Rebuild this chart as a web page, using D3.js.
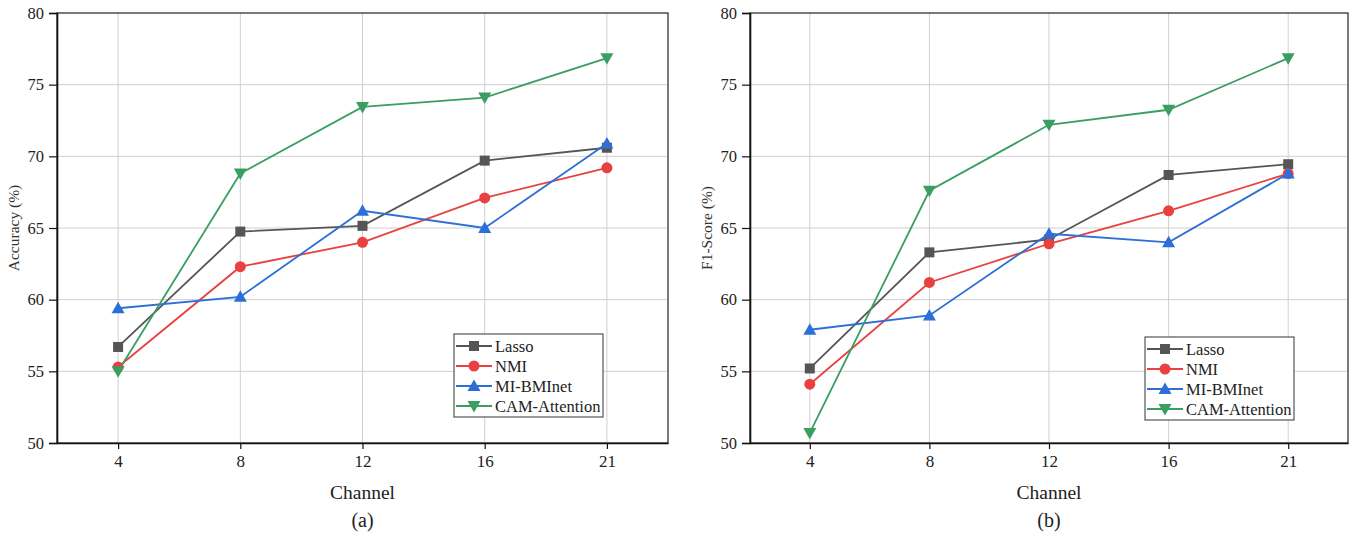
<!DOCTYPE html>
<html><head><meta charset="utf-8">
<script src="https://cdn.jsdelivr.net/npm/d3@7"></script>
<style>body{margin:0;background:#fff;} svg text{font-family:"Liberation Serif","Times New Roman","DejaVu Serif",serif !important;}</style>
</head><body>
<svg id="c" width="1354" height="535"></svg>
<script>
const channels = ["4","8","12","16","21"];
const seriesNames = ["Lasso","NMI","MI-BMInet","CAM-Attention"];
const colors = ["#555555","#e8413f","#2c6fd6","#3a9e63"];
const symbols = ["square","circle","triangle","triangleDown"];
const yTicks = [50,55,60,65,70,75,80];

const accLasso = [56.7, 64.75, 65.15, 69.7, 70.6];
const accNMI   = [55.3, 62.3, 64.0, 67.1, 69.2];
const accMI    = [59.4, 60.2, 66.2, 65.0, 70.9];
const accCAM   = [55.0, 68.8, 73.45, 74.1, 76.85];

const f1Lasso = [55.2, 63.3, 64.2, 68.7, 69.45];
const f1NMI   = [54.1, 61.2, 63.9, 66.2, 68.8];
const f1MI    = [57.9, 58.9, 64.6, 64.0, 68.8];
const f1CAM   = [50.7, 67.6, 72.2, 73.25, 76.85];

const panels = [
  {left:57, right:668, top:13, bottom:443, ylabel:"Accuracy (%)", tag:"(a)", data:[accLasso,accNMI,accMI,accCAM], legend:{x:454,y:334}},
  {left:750, right:1348, top:13, bottom:443, ylabel:"F1-Score (%)", tag:"(b)", data:[f1Lasso,f1NMI,f1MI,f1CAM], legend:{x:1145,y:337}}
];

const svg = d3.select("#c");

function marker(g, type, color, cx, cy){
  const s = 5;
  if(type==="square"){
    g.append("rect").attr("x",cx-s).attr("y",cy-s).attr("width",2*s).attr("height",2*s).attr("fill",color);
  } else if(type==="circle"){
    g.append("circle").attr("cx",cx).attr("cy",cy).attr("r",5.5).attr("fill",color);
  } else if(type==="triangle"){
    g.append("path").attr("d",`M${cx},${cy-6.5}L${cx+6.5},${cy+5}L${cx-6.5},${cy+5}Z`).attr("fill",color);
  } else {
    g.append("path").attr("d",`M${cx},${cy+6.5}L${cx+6.5},${cy-5}L${cx-6.5},${cy-5}Z`).attr("fill",color);
  }
}

panels.forEach(p => {
  const x = d3.scalePoint().domain(channels).range([p.left,p.right]).padding(0.5);
  const y = d3.scaleLinear().domain([50,80]).range([p.bottom,p.top]);
  const g = svg.append("g");

  g.append("g").selectAll("line").data(yTicks.slice(1,-1)).join("line")
    .attr("x1",p.left).attr("x2",p.right).attr("y1",d=>y(d)).attr("y2",d=>y(d))
    .attr("stroke","#cfcfcf").attr("stroke-width",1);
  g.append("g").selectAll("line").data(channels).join("line")
    .attr("x1",d=>x(d)).attr("x2",d=>x(d)).attr("y1",p.top).attr("y2",p.bottom)
    .attr("stroke","#cfcfcf").attr("stroke-width",1);

  g.append("rect").attr("x",p.left).attr("y",p.top).attr("width",p.right-p.left).attr("height",p.bottom-p.top)
    .attr("fill","none").attr("stroke","#333").attr("stroke-width",1.3);

  const ya = g.append("g").attr("transform",`translate(${p.left},0)`)
    .call(d3.axisLeft(y).tickValues(yTicks).tickSize(8).tickPadding(5).tickFormat(d3.format("d")));
  ya.select(".domain").attr("stroke","#111").attr("stroke-width",1.6);
  ya.selectAll(".tick line").attr("stroke","#111").attr("stroke-width",1.2);
  ya.selectAll("text").attr("font-size",16.5).attr("fill","#222");

  const xa = g.append("g").attr("transform",`translate(0,${p.bottom})`)
    .call(d3.axisBottom(x).tickSize(6).tickPadding(6).tickSizeOuter(0));
  xa.select(".domain").attr("stroke","#111").attr("stroke-width",1.6);
  xa.selectAll(".tick line").attr("stroke","#111").attr("stroke-width",1.2);
  xa.selectAll("text").attr("font-size",17).attr("fill","#222");

  const cx = (p.left+p.right)/2;
  g.append("text").attr("x",cx).attr("y",499).attr("text-anchor","middle").attr("font-size",19.5).attr("fill","#222").text("Channel");
  g.append("text").attr("x",cx).attr("y",527).attr("text-anchor","middle").attr("font-size",20).attr("fill","#222").text(p.tag);
  g.append("text").attr("transform",`translate(${p.left-38},${(p.top+p.bottom)/2}) rotate(-90)`)
    .attr("text-anchor","middle").attr("font-size",15.5).attr("fill","#333").text(p.ylabel);

  const line = d3.line().x((d,i)=>x(channels[i])).y(d=>y(d));
  p.data.forEach((vals,si)=>{
    g.append("path").datum(vals).attr("d",line).attr("fill","none").attr("stroke",colors[si]).attr("stroke-width",1.8);
  });
  p.data.forEach((vals,si)=>{
    const mg = g.append("g");
    vals.forEach((v,i)=> marker(mg, symbols[si], colors[si], x(channels[i]), y(v)));
  });

  const L = p.legend;
  const lg = g.append("g");
  lg.append("rect").attr("x",L.x).attr("y",L.y).attr("width",149).attr("height",83)
    .attr("fill","#fff").attr("stroke","#555").attr("stroke-width",1.2);
  seriesNames.forEach((n,i)=>{
    const ly = L.y + 12 + i*20;
    lg.append("line").attr("x1",L.x+2).attr("x2",L.x+38).attr("y1",ly).attr("y2",ly).attr("stroke",colors[i]).attr("stroke-width",1.8);
    marker(lg, symbols[i], colors[i], L.x+20, ly);
    lg.append("text").attr("x",L.x+41).attr("y",ly+5.5).attr("font-size",16.5).attr("fill","#222").text(n);
  });
});
</script>
</body></html>
